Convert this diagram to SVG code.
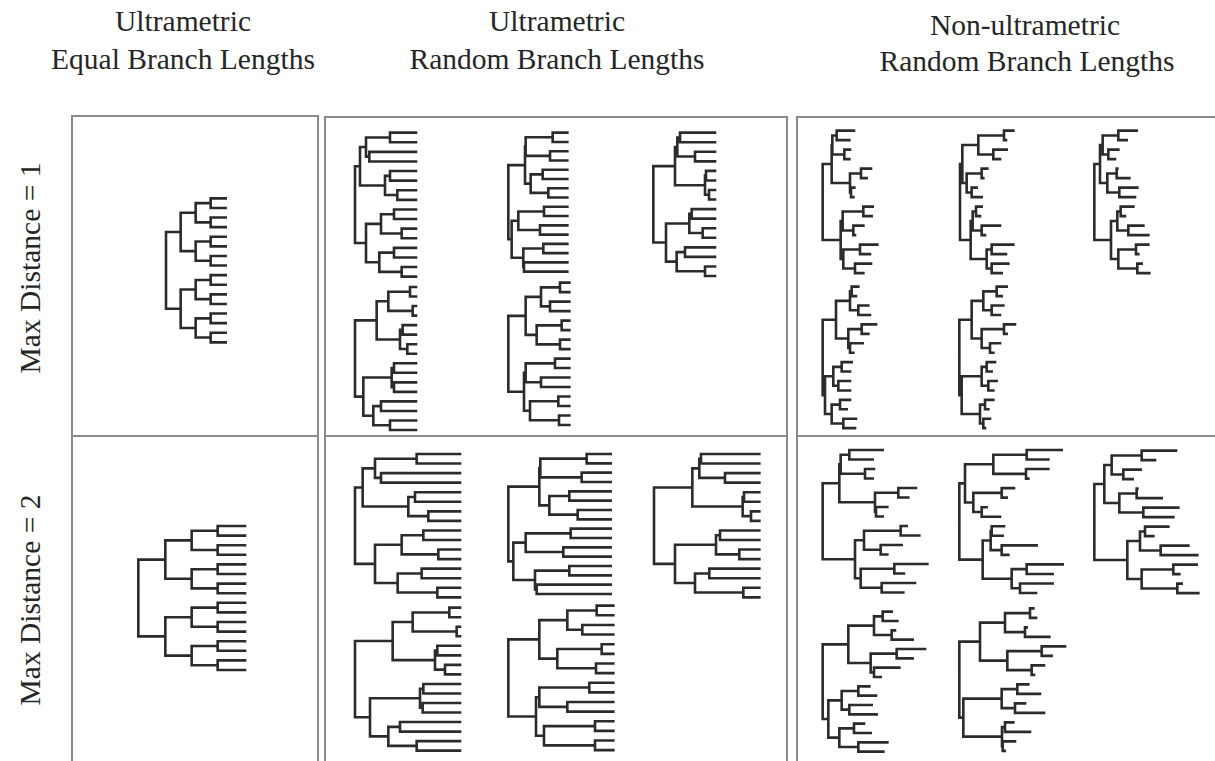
<svg xmlns="http://www.w3.org/2000/svg" width="1215" height="761" viewBox="0 0 1215 761">
<style>
.t{fill:none;stroke:#2b2b2b;stroke-width:2.6;vector-effect:non-scaling-stroke;stroke-linejoin:miter;stroke-linecap:square}
.f{fill:none;stroke:#8a8a8a;stroke-width:2}
.h{font-family:"Liberation Serif","Times New Roman",serif;font-size:29.5px;fill:#262626;text-anchor:middle}
</style>
<rect width="1215" height="761" fill="#fff"/>
<g id="labels">
<text class="h" x="183" y="31">Ultrametric</text>
<text class="h" x="183" y="69">Equal Branch Lengths</text>
<text class="h" x="557" y="31">Ultrametric</text>
<text class="h" x="557" y="69">Random Branch Lengths</text>
<text class="h" x="1025" y="35">Non-ultrametric</text>
<text class="h" x="1027" y="71">Random Branch Lengths</text>
<text class="h" transform="translate(40,268) rotate(-90)">Max Distance = 1</text>
<text class="h" transform="translate(40,600) rotate(-90)">Max Distance = 2</text>
</g>
<g id="frames">
<path class="f" d="M72 761V116H318V761M72 436H318M325 761V117H787V761M325 436H787M797 761V117H1216M797 436H1216"/>
</g>
<!-- trees: coordinates are in 1/3-scale local units per panel -->
<g id="tree-a1" transform="translate(60,110) scale(0.333333)">
<path class="t" d="M497 265H452V293.8H497M497 322.6H452V351.4H497M497 380.2H452V409H497M497 437.8H452V466.6H497M497 495.4H452V524.2H497M497 553H452V581.8H497M497 610.6H452V639.4H497M497 668.2H452V697H497M452 279.4H407V337H452M452 394.6H407V452.2H452M452 509.8H407V567.4H452M452 625H407V682.6H452M407 308.2H362V423.4H407M407 538.6H362V653.8H407M362 365.8H318V596.2H362"/>
</g>
<g id="tree-a2" transform="translate(60,430) scale(0.333333)">
<path class="t" d="M555 288H473V316.8H555M555 345.6H473V374.4H555M555 403.2H473V432H555M555 460.8H473V489.6H555M555 518.4H473V547.2H555M555 576H473V604.8H555M555 633.6H473V662.4H555M555 691.2H473V720H555M473 302.4H395V360H473M473 417.6H395V475.2H473M473 532.8H395V590.4H473M473 648H395V705.6H473M395 331.2H316V446.4H395M395 561.6H316V676.8H395M316 388.8H235V619.2H316"/>
</g>
<g id="tree-b1-1" transform="translate(320,110) scale(0.333333)">
<path class="t" d="M288 68H210V96.8H288M288 125.6H148V154.4H288M210 82.4H138V140H148M288 183.2H210V212H288M288 240.8H232V269.6H288M210 197.6H195V255.2H232M138 111.2H120V226.4H195M288 298.4H222V327.2H288M288 356H245V384.8H288M222 312.8H183V370.4H245M288 413.6H222V442.4H288M288 471.2H245V500H288M222 428H178V485.6H245M183 341.6H138V456.8H178M120 168.8H105V399.2H138"/>
</g>
<g id="tree-b1-4" transform="translate(320,110) scale(0.333333)">
<path class="t" d="M288 531H270V559.6H288M288 588.2H278V616.8H288M270 545.3H205V602.5H278M288 645.4H248V674H288M288 702.6H262V731.2H288M248 659.7H240V716.9H262M205 573.9H170V688.3H240M288 759.8H222V788.4H288M288 817H222V845.6H288M222 774.1H215V831.3H222M288 874.2H183V902.8H288M288 931.4H210V960H288M183 888.5H160V945.7H210M215 802.7H130V917.1H160M170 631.1H105V859.9H130"/>
</g>
<g id="tree-b1-2" transform="translate(480,110) scale(0.333333)">
<path class="t" d="M262 68H218V95.8H262M262 123.6H210V151.4H262M218 81.9H137V137.5H210M262 179.2H188V207H262M262 234.8H205V262.6H262M188 193.1H152V248.7H205M137 109.7H135V220.9H152M262 290.4H192V318.2H262M262 346H180V373.8H262M192 304.3H115V359.9H180M262 401.6H190V429.4H262M262 457.2H132V485H262M190 415.5H130V471.1H132M115 332.1H95V443.3H130M135 165.3H85V387.7H95"/>
</g>
<g id="tree-b1-5" transform="translate(480,110) scale(0.333333)">
<path class="t" d="M268 518H240V546.5H268M268 574.9H210V603.4H268M240 532.2H183V589.2H210M268 631.9H245V660.4H268M268 688.8H240V717.3H268M245 646.1H170V703.1H240M183 560.7H137V674.6H170M268 745.8H225V774.2H268M268 802.7H183V831.2H268M225 760H137V816.9H183M268 859.6H235V888.1H268M268 916.6H237V945H268M235 873.9H150V930.8H237M137 788.5H132V902.3H150M137 617.6H85V845.4H132"/>
</g>
<g id="tree-b1-3" transform="translate(630,110) scale(0.333333)">
<path class="t" d="M255 68H150V96.7H255M255 125.3H195V154H255M150 82.3H142V139.7H195M255 182.7H228V211.3H255M255 240H237V268.7H255M228 197H225V254.3H237M142 111H135V225.7H225M255 297.3H185V326H255M255 354.7H218V383.3H255M185 311.7H178V369H218M255 412H165V440.7H255M255 469.3H225V498H255M165 426.3H140V483.7H225M178 340.3H108V455H140M135 168.3H70V397.7H108"/>
</g>
<g id="tree-b2-1" transform="translate(320,440) scale(0.333333)">
<path class="t" d="M420 42H290V70.7H420M420 99.3H183V128H420M290 56.3H165V113.7H183M420 156.7H285V185.3H420M420 214H325V242.7H420M285 171H265V228.3H325M165 85H128V199.7H265M420 271.3H310V300H420M420 328.7H355V357.3H420M310 285.7H245V343H355M420 386H305V414.7H420M420 443.3H352V472H420M305 400.3H233V457.7H352M245 314.3H165V429H233M128 142.3H105V371.7H165"/>
</g>
<g id="tree-b2-4" transform="translate(320,440) scale(0.333333)">
<path class="t" d="M420 503H388V531.6H420M420 560.2H410V588.8H420M388 517.3H278V574.5H410M420 617.4H352V646H420M420 674.6H375V703.2H420M352 631.7H345V688.9H375M278 545.9H218V660.3H345M420 731.8H310V760.4H420M420 789H308V817.6H420M310 746.1H300V803.3H308M420 846.2H240V874.8H420M420 903.4H290V932H420M240 860.5H205V917.7H290M300 774.7H150V889.1H205M218 603.1H105V831.9H150"/>
</g>
<g id="tree-b2-2" transform="translate(480,440) scale(0.333333)">
<path class="t" d="M392 42H320V70H392M392 98H305V126H392M320 56H181V112H305M392 154H268V182H392M392 210H293V238H392M268 168H208V224H293M181 84H178V196H208M392 266H272V294H392M392 322H250V350H392M272 280H137V336H250M392 378H268V406H392M392 434H170V462H392M268 392H165V448H170M137 308H100V420H165M178 140H85V364H100"/>
</g>
<g id="tree-b2-5" transform="translate(480,440) scale(0.333333)">
<path class="t" d="M400 497H350V525.9H400M400 554.8H307V583.7H400M350 511.5H262V569.3H307M400 612.6H365V641.5H400M400 670.4H348V699.3H400M365 627H232V684.9H348M262 540.4H178V656H232M400 728.2H328V757.1H400M400 786H262V814.9H400M328 742.7H178V800.5H262M400 843.8H345V872.7H400M400 901.6H345V930.5H400M345 858.3H192V916.1H345M178 771.6H168V887.2H192M178 598.2H85V829.4H168"/>
</g>
<g id="tree-b2-3" transform="translate(640,440) scale(0.333333)">
<path class="t" d="M358 42H183V70.7H358M358 99.3H255V128H358M183 56.3H178V113.7H255M358 156.7H312V185.3H358M358 214H333V242.7H358M312 171H308V228.3H333M178 85H157V199.7H308M358 271.3H240V300H358M358 328.7H298V357.3H358M240 285.7H228V343H298M358 386H208V414.7H358M358 443.3H310V472H358M208 400.3H165V457.7H310M228 314.3H105V429H165M157 142.3H42V371.7H105"/>
</g>
<g id="tree-c1-1" transform="translate(800,110) scale(0.333333)">
<path class="t" d="M162 62H110V90.5H148M150 119H133V147.5H148M110 76.3H97V133.3H133M213 176H183V204.5H200M163 233H153V261.5H160M183 190.3H150V247.3H153M97 104.8H95V218.8H150M218 290H190V318.5H215M190 347H160V375.5H165M190 304.3H128V361.3H160M232 404H180V432.5H210M213 461H165V489.5H190M180 418.3H130V475.3H165M128 332.8H122V446.8H130M95 161.8H68V389.8H122"/>
</g>
<g id="tree-c1-4" transform="translate(800,110) scale(0.333333)">
<path class="t" d="M175 530H155V558.3H168M205 586.6H175V614.9H210M155 544.2H150V600.8H175M228 643.2H185V671.5H205M188 699.8H150V728.1H160M185 657.4H145V714H150M150 572.5H108V685.7H145M155 756.4H125V784.7H150M150 813H115V841.3H150M125 770.6H100V827.2H115M150 869.6H120V897.9H140M168 926.2H130V954.5H165M120 883.8H95V940.4H130M100 798.9H75V912.1H95M108 629.1H68V855.5H75"/>
</g>
<g id="tree-c1-2" transform="translate(800,110) scale(0.333333)">
<path class="t" d="M640 62H612V90.5H618M620 119H580V147.5H600M612 76.3H535V133.3H580M562 176H545V204.5H550M530 233H515V261.5H545M545 190.3H500V247.3H515M535 104.8H487V218.8H500M545 290H528V318.5H540M600 347H545V375.5H555M528 304.3H518V361.3H545M640 404H575V432.5H618M625 461H575V489.5H605M575 418.3H560V475.3H575M518 332.8H512V446.8H560M487 161.8H480V389.8H512"/>
</g>
<g id="tree-c1-5" transform="translate(800,110) scale(0.333333)">
<path class="t" d="M620 530H590V558.3H605M610 586.6H575V614.9H600M590 544.2H550V600.8H575M645 643.2H612V671.5H620M600 699.8H570V728.1H580M612 657.4H545V714H570M550 572.5H515V685.7H545M585 756.4H560V784.7H575M590 813H565V841.3H580M560 770.6H545V827.2H565M580 869.6H555V897.9H565M570 926.2H550V954.5H555M555 883.8H540V940.4H550M545 798.9H485V912.1H540M515 629.1H478V855.5H485"/>
</g>
<g id="tree-c1-3" transform="translate(1000,110) scale(0.333333)">
<path class="t" d="M410 62H355V90.5H380M355 119H325V147.5H345M355 76.3H308V133.3H325M352 176H350V204.5H388M412 233H358V261.5H405M350 190.3H322V247.3H358M308 104.8H300V218.8H322M400 290H362V318.5H375M430 347H385V375.5H445M362 304.3H352V361.3H385M445 404H408V432.5H415M425 461H412V489.5H448M408 418.3H355V475.3H412M352 332.8H333V446.8H355M300 161.8H283V389.8H333"/>
</g>
<g id="tree-c2-1" transform="translate(800,440) scale(0.333333)">
<path class="t" d="M248 30H148V58.5H218M222 87H195V115.5H218M148 44.3H122V101.3H195M348 144H295V172.5H325M262 201H228V229.5H248M295 158.3H225V215.3H228M122 72.8H118V186.8H225M320 258H302V286.5H358M305 315H242V343.5H262M302 272.3H192V329.3H242M382 372H283V400.5H312M345 429H245V457.5H310M283 386.3H182V443.3H245M192 300.8H165V414.8H182M118 129.8H68V357.8H165"/>
</g>
<g id="tree-c2-4" transform="translate(800,440) scale(0.333333)">
<path class="t" d="M275 515H248V543H292M285 571H275V599H338M248 529H222V585H275M375 627H290V655H338M298 683H222V711H242M290 641H212V697H222M222 557H145V669H212M208 739H175V767H228M215 795H148V823H230M175 753H125V809H148M192 851H162V879H212M262 907H175V935H250M162 865H118V921H175M125 781H85V893H118M145 613H68V837H85"/>
</g>
<g id="tree-c2-2" transform="translate(800,440) scale(0.333333)">
<path class="t" d="M785 30H680V58.6H745M745 87.2H678V115.8H685M680 44.3H580V101.5H678M642 144.4H605V173H620M560 201.6H545V230.2H600M605 158.7H520V215.9H545M580 72.9H495V187.3H520M612 258.8H575V287.4H608M710 316H605V344.6H625M575 273.1H572V330.3H605M788 373.2H680V401.8H758M758 430.4H660V459H708M680 387.5H635V444.7H660M572 301.7H548V416.1H635M495 130.1H478V358.9H548"/>
</g>
<g id="tree-c2-5" transform="translate(800,440) scale(0.333333)">
<path class="t" d="M700 505H690V533.5H708M680 562H675V590.5H748M690 519.3H615V576.3H675M795 619H725V647.5H755M732 676H695V704.5H702M725 633.3H622V690.3H695M615 547.8H540V661.8H622M685 733H652V761.5H720M675 790H645V818.5H732M652 747.3H605V804.3H645M640 847H615V875.5H690M645 904H608V932.5H614M615 861.3H606V918.3H608M605 775.8H490V889.8H606M540 604.8H478V832.8H490"/>
</g>
<g id="tree-c2-3" transform="translate(1000,440) scale(0.333333)">
<path class="t" d="M528 32H425V60.5H465M422 89H370V117.5H398M425 46.3H335V103.3H370M412 146H410V174.5H485M535 203H430V231.5H520M410 160.3H358V217.3H430M335 74.8H313V188.8H358M505 260H435V288.5H460M565 317H482V345.5H592M435 274.3H420V331.3H482M590 374H520V402.5H538M545 431H532V459.5H595M520 388.3H425V445.3H532M420 302.8H382V416.8H425M313 131.8H283V359.8H382"/>
</g>
</svg>
